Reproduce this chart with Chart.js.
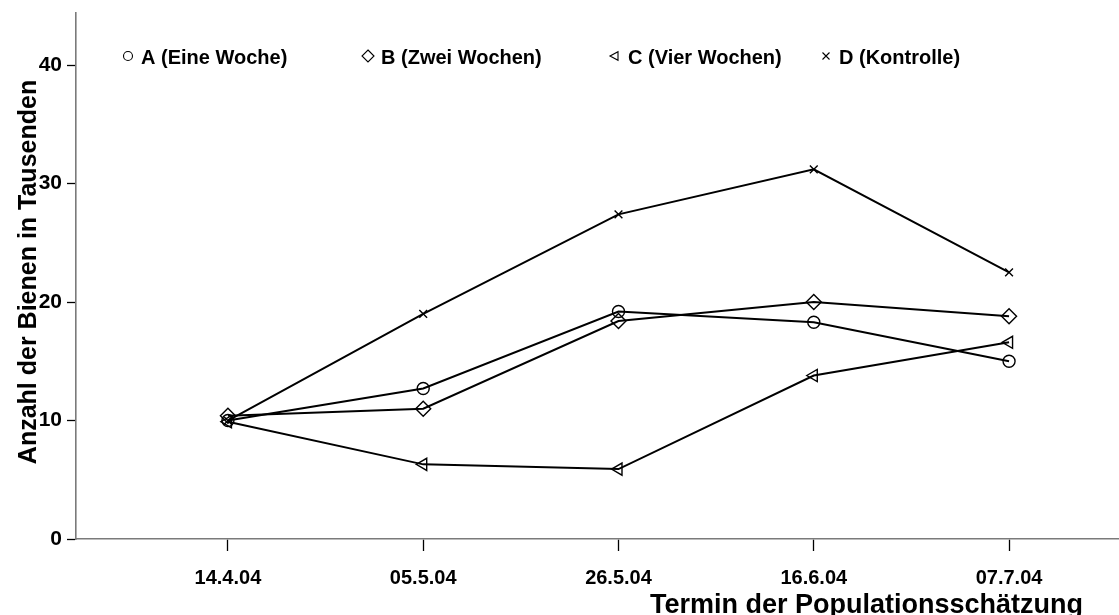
<!DOCTYPE html>
<html>
<head>
<meta charset="utf-8">
<script src="https://cdn.jsdelivr.net/npm/chart.js@4/dist/chart.umd.min.js"></script>
<style>
  html, body { margin: 0; padding: 0; background: #fff; overflow: hidden; }
  #wrap { width: 1119px; height: 615px; position: relative; }
  #c { display: block; }
</style>
</head>
<body>
<div id="wrap"><canvas id="c"></canvas></div>
<script>
// Survey dates (x axis) and colony sizes in thousands of bees
const dates = ['14.4.04', '05.5.04', '26.5.04', '16.6.04', '07.7.04'];
const seriesNames = ['A (Eine Woche)', 'B (Zwei Wochen)', 'C (Vier Wochen)', 'D (Kontrolle)'];
const valuesA = [10.0, 12.7, 19.2, 18.3, 15.0];
const valuesB = [10.4, 11.0, 18.4, 20.0, 18.8];
const valuesC = [9.9, 6.3, 5.9, 13.8, 16.6];
const valuesD = [10.0, 19.0, 27.4, 31.2, 22.5];
const yTicks = [0, 10, 20, 30, 40];

const FONT = '"Liberation Sans", Arial, sans-serif';
const AXIS_GREY = '#7a7a7a';

const styles = [
  { pointStyle: 'circle', radius: 6, rotation: 0 },
  { pointStyle: 'rectRot', radius: 7.5, rotation: 0 },
  { pointStyle: 'triangle', radius: 7, rotation: -90 },
  { pointStyle: 'crossRot', radius: 5.5, rotation: 0 }
];

function toPoints(arr) { return arr.map((v, i) => ({ x: i, y: v })); }

const datasets = [valuesA, valuesB, valuesC, valuesD].map((vals, k) => ({
  label: seriesNames[k],
  data: toPoints(vals),
  borderColor: '#000',
  backgroundColor: 'rgba(255,255,255,0)',
  borderWidth: 2,
  pointStyle: styles[k].pointStyle,
  pointRadius: styles[k].radius,
  pointRotation: styles[k].rotation,
  pointBorderColor: '#000',
  pointBorderWidth: 1.4,
  pointBackgroundColor: 'rgba(255,255,255,0)',
  tension: 0,
  fill: false
}));

// Hand-placed legend row across the top of the plot
const legendX = [128, 368, 615, 826];

function drawMarker(ctx, style, x, y, r) {
  ctx.beginPath();
  if (style === 'circle') {
    ctx.arc(x, y, r, 0, Math.PI * 2);
  } else if (style === 'rectRot') {
    ctx.moveTo(x, y - r); ctx.lineTo(x + r, y); ctx.lineTo(x, y + r); ctx.lineTo(x - r, y); ctx.closePath();
  } else if (style === 'triangle') {
    ctx.moveTo(x - r, y); ctx.lineTo(x + r * 0.6, y - r * 0.85); ctx.lineTo(x + r * 0.6, y + r * 0.85); ctx.closePath();
  } else {
    ctx.moveTo(x - r, y - r); ctx.lineTo(x + r, y + r);
    ctx.moveTo(x + r, y - r); ctx.lineTo(x - r, y + r);
  }
  ctx.stroke();
}

const decorations = {
  id: 'decorations',
  afterDraw(chart) {
    const ctx = chart.ctx;
    ctx.save();
    // legend
    ctx.strokeStyle = '#000';
    ctx.lineWidth = 1.1;
    ctx.fillStyle = '#000';
    ctx.font = 'bold 20px ' + FONT;
    ctx.textBaseline = 'middle';
    ctx.textAlign = 'left';
    const legendSizes = [4.5, 6, 5, 3.5];
    chart.data.datasets.forEach((ds, i) => {
      drawMarker(ctx, ds.pointStyle, legendX[i], 56, legendSizes[i]);
      ctx.fillText(ds.label, legendX[i] + 13, 58);
    });
    // axis titles
    ctx.font = 'bold 27px ' + FONT;
    ctx.textAlign = 'right';
    ctx.textBaseline = 'alphabetic';
    ctx.fillText('Termin der Populationsschätzung', 1083, 613);
    ctx.font = 'bold 25px ' + FONT;
    ctx.translate(36, 272);
    ctx.rotate(-Math.PI / 2);
    ctx.textAlign = 'center';
    ctx.fillText('Anzahl der Bienen in Tausenden', 0, 0);
    ctx.restore();
  }
};

new Chart(document.getElementById('c'), {
  type: 'line',
  data: { datasets },
  options: {
    responsive: true,
    maintainAspectRatio: false,
    animation: false,
    events: [],
    layout: { autoPadding: false, padding: { top: 13, right: 0, left: 0, bottom: 0 } },
    plugins: { legend: { display: false }, tooltip: { enabled: false } },
    scales: {
      x: {
        type: 'linear',
        min: -0.778,
        max: 4.563,
        afterBuildTicks(scale) { scale.ticks = dates.map((d, i) => ({ value: i })); },
        afterFit(scale) { scale.height = 76; scale.paddingLeft = 0; scale.paddingRight = 0; },
        ticks: {
          callback: (v) => dates[v],
          color: '#000',
          font: { family: FONT, size: 20, weight: 'bold' },
          padding: 15,
          maxRotation: 0,
          autoSkip: false
        },
        grid: { drawOnChartArea: false, drawTicks: true, tickLength: 12, tickColor: '#000', tickWidth: 1.3 },
        border: { display: true, color: AXIS_GREY, width: 1.6 }
      },
      y: {
        type: 'linear',
        min: 0,
        max: 44.4,
        afterBuildTicks(scale) { scale.ticks = yTicks.map(v => ({ value: v })); },
        afterFit(scale) { scale.width = 76; scale.paddingTop = 0; scale.paddingBottom = 0; },
        ticks: {
          color: '#000',
          font: { family: FONT, size: 21, weight: 'bold' },
          padding: 5
        },
        grid: { drawOnChartArea: false, drawTicks: true, tickLength: 9, tickColor: '#000', tickWidth: 1.3 },
        border: { display: true, color: AXIS_GREY, width: 1.6 }
      }
    }
  },
  plugins: [decorations]
});
</script>
</body>
</html>
